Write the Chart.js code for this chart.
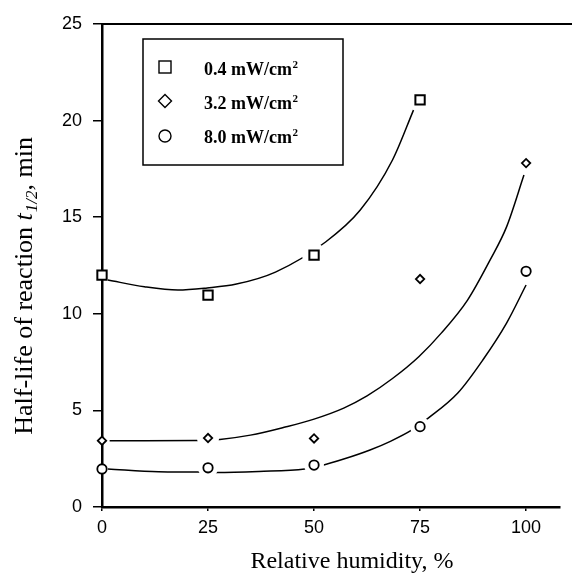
<!DOCTYPE html>
<html>
<head>
<meta charset="utf-8">
<script src="https://cdn.jsdelivr.net/npm/chart.js@4/dist/chart.umd.min.js"></script>
<style>
  html, body { margin: 0; padding: 0; background: #fff; }
  #wrap { width: 572px; height: 574px; }
</style>
</head>
<body>
<div id="wrap"><canvas id="chart" width="572" height="574"></canvas></div>
<script>
// Relative humidity (%) at which the half-life was measured
const humidity = [0, 25, 50, 75, 100];

// Measured half-life t1/2 (min) for each light intensity
const halfLife04 = [12.0, 10.97, 13.04, 21.07];
const halfLife32 = [3.43, 3.57, 3.55, 11.8, 17.8];
const halfLife80 = [1.97, 2.03, 2.17, 4.16, 12.2];

// Trend curves drawn through each series
const trend04X = [1.4, 10, 17.9, 24.8, 31.7, 40.9, 52.8, 60.9, 68.5, 73.5];
const trend04Y = [11.75, 11.4, 11.23, 11.34, 11.54, 12.16, 13.73, 15.37, 17.96, 20.57];
const trend32X = [1.8, 10, 22.5, 27.8, 35, 43.2, 50, 57.0, 62.5, 68.5, 74.7, 80.0, 86.2, 91.5, 95.4, 99.5];
const trend32Y = [3.43, 3.43, 3.44, 3.5, 3.72, 4.14, 4.55, 5.12, 5.75, 6.65, 7.78, 9.0, 10.71, 12.78, 14.5, 17.18];
const trend80X = [1.4, 13.3, 22.5, 27.1, 37, 47.8, 51.9, 57, 63.2, 68, 73.1, 77.0, 83.9, 89.8, 95.4, 100];
const trend80Y = [1.97, 1.83, 1.81, 1.78, 1.84, 1.97, 2.15, 2.48, 2.95, 3.4, 3.99, 4.61, 5.9, 7.61, 9.52, 11.49];

// Legend entries (intensity in mW/cm2)
const intensityLabels = ['0.4', '3.2', '8.0'];

// Axis ticks
const xTickStep = 25;
const yTickStep = 5;

const pts = (xs, ys) => ys.map((y, i) => ({ x: xs[i], y }));

const INK = '#000';
const SERIF = '"Liberation Serif", "Times New Roman", serif';
const SANS = '"Liberation Sans", Arial, sans-serif';

function curve(xs, ys) {
  return {
    data: pts(xs, ys),
    showLine: true,
    borderColor: INK,
    borderWidth: 1.5,
    pointRadius: 0,
    cubicInterpolationMode: 'monotone',
    clip: false,
    order: 3
  };
}

// white discs that open a small gap in the curves around each marker
function halo(ys, radii) {
  return {
    data: pts(humidity, ys),
    pointStyle: 'circle',
    pointRadius: radii,
    pointBackgroundColor: '#fff',
    pointBorderWidth: 0,
    pointBorderColor: '#fff',
    clip: false,
    order: 2
  };
}

function markers(ys, style, radius, width) {
  return {
    data: pts(humidity, ys),
    pointStyle: style,
    pointRadius: radius,
    pointBackgroundColor: '#fff',
    pointBorderColor: INK,
    pointBorderWidth: width,
    clip: false,
    order: 1
  };
}

// Axis frame top line, legend box and rotated y title
const decorations = {
  id: 'decorations',
  afterDraw(chart) {
    const { ctx, chartArea } = chart;
    ctx.save();

    // top border of the plotting box
    ctx.strokeStyle = INK;
    ctx.lineWidth = 2;
    ctx.beginPath();
    ctx.moveTo(chartArea.left - 1, chartArea.top);
    ctx.lineTo(chart.width, chartArea.top);
    ctx.stroke();

    // legend
    ctx.lineWidth = 1.5;
    ctx.strokeRect(143, 39, 200, 126);
    const rows = [75, 109, 143];
    const mx = 165;
    ctx.lineWidth = 1.4;
    // square
    let cy = rows[0] - 8;
    ctx.strokeRect(mx - 6, cy - 6, 12, 12);
    // diamond
    cy = rows[1] - 8;
    ctx.beginPath();
    ctx.moveTo(mx, cy - 6.5); ctx.lineTo(mx + 6.5, cy); ctx.lineTo(mx, cy + 6.5); ctx.lineTo(mx - 6.5, cy); ctx.closePath();
    ctx.stroke();
    // circle
    cy = rows[2] - 7;
    ctx.beginPath();
    ctx.arc(mx, cy, 6, 0, Math.PI * 2);
    ctx.stroke();

    ctx.fillStyle = INK;
    ctx.textBaseline = 'alphabetic';
    ctx.textAlign = 'left';
    intensityLabels.forEach((lab, i) => {
      ctx.font = 'bold 18px ' + SERIF;
      const txt = lab + ' mW/cm';
      ctx.fillText(txt, 204, rows[i]);
      const w = ctx.measureText(txt).width;
      ctx.font = 'bold 11px ' + SERIF;
      ctx.fillText('2', 204 + w + 0.5, rows[i] - 7);
    });

    // x axis title
    ctx.font = '24px ' + SERIF;
    ctx.textAlign = 'center';
    ctx.fillText('Relative humidity, %', 352, 568);

    // y axis title, reading upward
    const parts = [
      { t: 'Half-life of reaction ', f: '26px ' + SERIF, dy: 0 },
      { t: 't', f: 'italic 26px ' + SERIF, dy: 0 },
      { t: '1/2', f: 'italic 17px ' + SERIF, dy: 5 },
      { t: ', min', f: '26px ' + SERIF, dy: 0 }
    ];
    let total = 0;
    parts.forEach(p => { ctx.font = p.f; p.w = ctx.measureText(p.t).width; total += p.w; });
    ctx.translate(32, 138 + total);
    ctx.rotate(-Math.PI / 2);
    ctx.textAlign = 'left';
    let x = 0;
    parts.forEach(p => {
      ctx.font = p.f;
      ctx.fillText(p.t, x, p.dy);
      x += p.w + (p.t === 't' ? 1 : 0);
    });
    ctx.restore();
  }
};

new Chart(document.getElementById('chart'), {
  type: 'scatter',
  data: {
    datasets: [
      curve(trend04X, trend04Y),
      curve(trend32X, trend32Y),
      curve(trend80X, trend80Y),
      halo(halfLife04, [0, 0, 12, 12]),
      halo(halfLife32, [0, 11, 10, 10, 10]),
      halo(halfLife80, [0, 10, 10, 10, 10]),
      markers(halfLife04, 'rect', 6.6, 2),
      markers(halfLife32, 'rectRot', 4.2, 1.8),
      markers(halfLife80, 'circle', 4.7, 1.8)
    ]
  },
  options: {
    responsive: false,
    animation: false,
    devicePixelRatio: 1,
    layout: { padding: { top: 24, right: 0, left: 0, bottom: 0 } },
    plugins: { legend: { display: false }, tooltip: { enabled: false } },
    scales: {
      x: {
        type: 'linear',
        min: 0,
        max: 108,
        afterFit(scale) { scale.height = 67; },
        ticks: {
          stepSize: xTickStep,
          includeBounds: false,
          color: INK,
          font: { family: SANS, size: 18 },
          padding: 6,
          maxRotation: 0
        },
        grid: { drawOnChartArea: false, drawTicks: true, tickLength: 4, color: INK, lineWidth: 1.5 },
        border: { color: INK, width: 2.5 }
      },
      y: {
        type: 'linear',
        min: 0,
        max: 25,
        afterFit(scale) { scale.width = 102; },
        ticks: {
          stepSize: yTickStep,
          color: INK,
          font: { family: SANS, size: 18 },
          padding: 11
        },
        grid: { drawOnChartArea: false, drawTicks: true, tickLength: 9, color: INK, lineWidth: 1.5 },
        border: { color: INK, width: 2.5 }
      }
    }
  },
  plugins: [decorations]
});
</script>
</body>
</html>
